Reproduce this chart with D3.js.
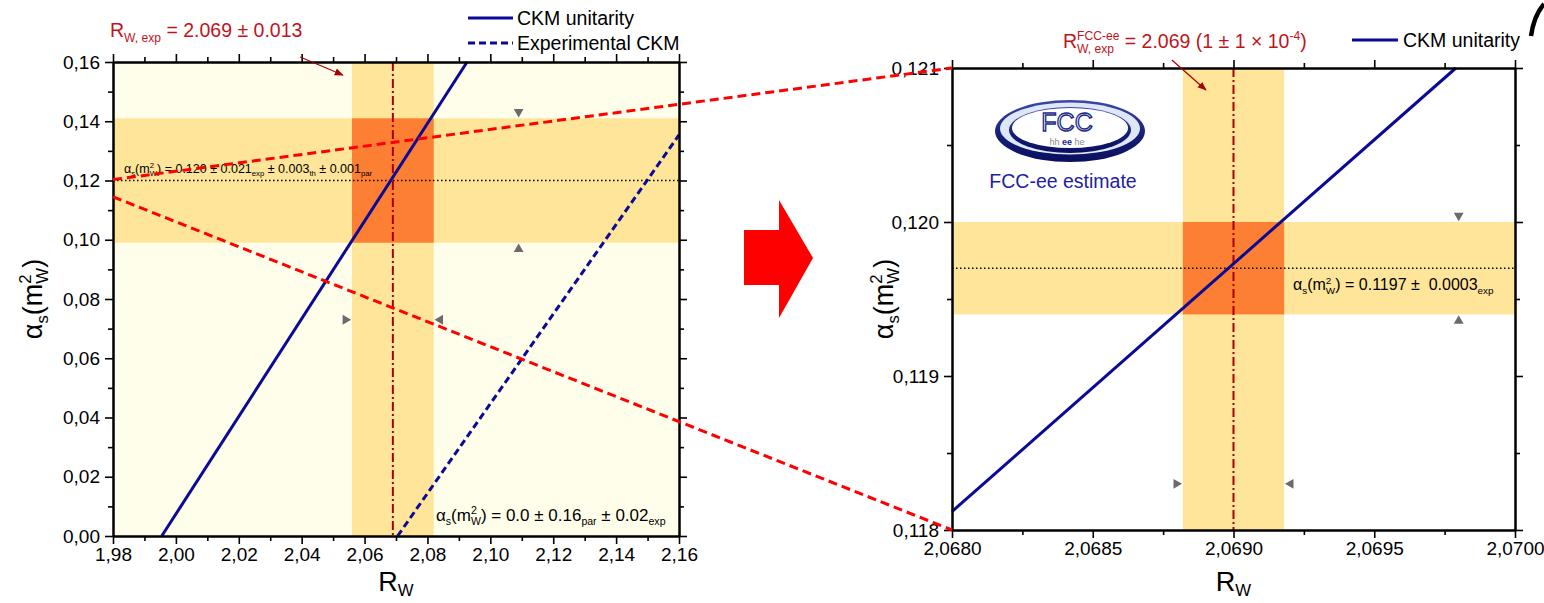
<!DOCTYPE html>
<html>
<head>
<meta charset="utf-8">
<script src="https://cdn.jsdelivr.net/npm/d3@7"></script>
<style>
  html, body { margin: 0; padding: 0; background: #ffffff; }
  svg { display: block; font-family: "Liberation Sans", Arial, sans-serif; }
  text { white-space: pre; }
</style>
</head>
<body>
<svg id="chart" width="1544" height="603"></svg>
<script>
// ---------------- data ----------------
const xTicksLeft  = [1.98, 2.00, 2.02, 2.04, 2.06, 2.08, 2.10, 2.12, 2.14, 2.16];
const yTicksLeft  = [0.00, 0.02, 0.04, 0.06, 0.08, 0.10, 0.12, 0.14, 0.16];
const xTicksRight = [2.0680, 2.0685, 2.0690, 2.0695, 2.0700];
const yTicksRight = [0.118, 0.119, 0.120, 0.121];

// measured R_W and alpha_s bands (central value, half width)
const rwCentral = 2.069;
const rwErrNow = 0.013;
const rwErrFcc = 0.00018;
const alphaNow = 0.120, alphaErrNow = 0.021;
const alphaFcc = 0.1197, alphaErrFcc = 0.0003;

// lines [R_W, alpha_s]
const ckmUnitarityLeft  = [[1.9955, 0.0], [2.0926, 0.16]];
const ckmExperimental   = [[2.0705, 0.0], [2.16, 0.1354]];
const ckmUnitarityRight = [[2.0680, 0.11812], [2.06979, 0.121]];

// zoom guides: start in the left panel, end at the corners of the right panel
const zoomFrom = [[1.98, 0.1203], [1.98, 0.1145]];
const zoomTo   = [[2.0680, 0.121], [2.0680, 0.118]];

// error-marker anchors
const markLeft  = { r: 2.109, a: 0.073 };
const markRight = { r: 2.0698, a: 0.1183 };

// annotation arrows [from, to] in panel data units
const arrowLeft  = [[2.0395, 0.1617], [2.0531, 0.1556]];
const arrowRight = [[2.068781, 0.121052], [2.068902, 0.120857]];

// ---------------- layout ----------------
const svg = d3.select("#chart");
const FONT = '"Liberation Sans", Arial, sans-serif';
const BLUE = "#0a0a96";
const DARKRED = "#a80000";
const ANNORED = "#c0141c";
const BAND = "#ffe59a";
const CROSS = "#fd7f33";

const PL = { x0: 113, x1: 679, y0: 536, y1: 62 };
const PR = { x0: 952, x1: 1515, y0: 530, y1: 68 };

const xL = d3.scaleLinear().domain([xTicksLeft[0], xTicksLeft[xTicksLeft.length - 1]]).range([PL.x0, PL.x1]);
const yL = d3.scaleLinear().domain([yTicksLeft[0], yTicksLeft[yTicksLeft.length - 1]]).range([PL.y0, PL.y1]);
const xR = d3.scaleLinear().domain([xTicksRight[0], xTicksRight[xTicksRight.length - 1]]).range([PR.x0, PR.x1]);
const yR = d3.scaleLinear().domain([yTicksRight[0], yTicksRight[yTicksRight.length - 1]]).range([PR.y0, PR.y1]);

const defs = svg.append("defs");
defs.append("marker").attr("id", "arrowHead")
  .attr("viewBox", "0 0 10 10").attr("refX", 9).attr("refY", 5)
  .attr("markerWidth", 9).attr("markerHeight", 9).attr("orient", "auto")
  .attr("markerUnits", "userSpaceOnUse")
  .append("path").attr("d", "M0,1 L10,5 L0,9 Z").attr("fill", DARKRED);

// text with sub/superscripts; stacked scripts share one horizontal slot
function richText(parent, x, y, segs, o) {
  const outer = parent.append("g")
    .attr("transform", `translate(${x},${y})` + (o.rotate ? ` rotate(${o.rotate})` : ""));
  const inner = outer.append("g");
  let cx = 0, pending = 0;
  const subDy = o.subDy !== undefined ? o.subDy : 0.24;
  for (const s of segs) {
    const small = s.k === "sub" || s.k === "sup";
    const fs = small ? o.size * 0.62 : o.size;
    const dy = s.k === "sub" ? o.size * subDy : s.k === "sup" ? -o.size * 0.4 : 0;
    const t = inner.append("text")
      .attr("x", cx).attr("y", dy)
      .attr("font-size", fs)
      .attr("font-family", FONT)
      .attr("font-weight", s.bold ? "bold" : null)
      .attr("fill", s.fill || o.fill || "#000")
      .text(s.t);
    const w = t.node().getComputedTextLength();
    if (s.stack) pending = Math.max(pending, w);
    else { cx += Math.max(w, pending); pending = 0; }
  }
  const shift = o.anchor === "middle" ? -cx / 2 : o.anchor === "end" ? -cx : 0;
  inner.attr("transform", `translate(${shift},0)`);
  return outer;
}

const alphaTitle = [{ t: "α" }, { t: "s", k: "sub" }, { t: "(m" }, { t: "2", k: "sup", stack: true }, { t: "W", k: "sub" }, { t: ")" }];
const rwTitle = [{ t: "R" }, { t: "W", k: "sub" }];

function midpoints(arr) {
  const out = [];
  for (let i = 0; i < arr.length - 1; i++) out.push((arr[i] + arr[i + 1]) / 2);
  return out;
}

function commaFormat(spec) {
  const f = d3.format(spec);
  return d => f(d).replace(".", ",");
}

function drawAxes(g, xs, ys, P, xt, yt, fx, fy) {
  const xm = midpoints(xt), ym = midpoints(yt);
  const style = sel => {
    sel.attr("font-size", 19).attr("font-family", FONT);
    sel.select(".domain").attr("stroke", "#000").attr("stroke-width", 2);
    sel.selectAll(".tick line").attr("stroke", "#000").attr("stroke-width", 1.6);
    sel.selectAll(".tick text").attr("fill", "#000");
  };
  g.append("g").attr("transform", `translate(0,${P.y0})`)
    .call(d3.axisBottom(xs).tickValues(xt).tickSize(8).tickSizeOuter(0).tickPadding(4).tickFormat(fx)).call(style);
  g.append("g").attr("transform", `translate(0,${P.y0})`)
    .call(d3.axisBottom(xs).tickValues(xm).tickSize(5).tickSizeOuter(0).tickFormat("")).call(style);
  g.append("g").attr("transform", `translate(0,${P.y1})`)
    .call(d3.axisTop(xs).tickValues(xt).tickSize(8).tickSizeOuter(0).tickFormat("")).call(style);
  g.append("g").attr("transform", `translate(0,${P.y1})`)
    .call(d3.axisTop(xs).tickValues(xm).tickSize(5).tickSizeOuter(0).tickFormat("")).call(style);
  g.append("g").attr("transform", `translate(${P.x0},0)`)
    .call(d3.axisLeft(ys).tickValues(yt).tickSize(8).tickSizeOuter(0).tickPadding(5).tickFormat(fy)).call(style);
  g.append("g").attr("transform", `translate(${P.x0},0)`)
    .call(d3.axisLeft(ys).tickValues(ym).tickSize(5).tickSizeOuter(0).tickFormat("")).call(style);
  g.append("g").attr("transform", `translate(${P.x1},0)`)
    .call(d3.axisRight(ys).tickValues(yt).tickSize(8).tickSizeOuter(0).tickFormat("")).call(style);
  g.append("g").attr("transform", `translate(${P.x1},0)`)
    .call(d3.axisRight(ys).tickValues(ym).tickSize(5).tickSizeOuter(0).tickFormat("")).call(style);
}

function drawBands(g, xs, ys, P, rC, rE, aC, aE) {
  g.append("rect").attr("x", xs(rC - rE)).attr("y", P.y1)
    .attr("width", xs(rC + rE) - xs(rC - rE)).attr("height", P.y0 - P.y1).attr("fill", BAND);
  g.append("rect").attr("x", P.x0).attr("y", ys(aC + aE))
    .attr("width", P.x1 - P.x0).attr("height", ys(aC - aE) - ys(aC + aE)).attr("fill", BAND);
  g.append("rect").attr("x", xs(rC - rE)).attr("y", ys(aC + aE))
    .attr("width", xs(rC + rE) - xs(rC - rE)).attr("height", ys(aC - aE) - ys(aC + aE)).attr("fill", CROSS);
  g.append("line").attr("x1", P.x0).attr("x2", P.x1).attr("y1", ys(aC)).attr("y2", ys(aC))
    .attr("stroke", "#000").attr("stroke-width", 1.5).attr("stroke-dasharray", "1.5,2.5");
  g.append("line").attr("x1", xs(rC)).attr("x2", xs(rC)).attr("y1", P.y1).attr("y2", P.y0)
    .attr("stroke", DARKRED).attr("stroke-width", 2).attr("stroke-dasharray", "9,3,2,3");
}

function drawMarkers(g, xs, ys, rC, rE, aC, aE, m) {
  const tri = d3.symbol(d3.symbolTriangle, 42)();
  const gap = 6.5;
  const items = [
    [xs(m.r), ys(aC + aE) - gap, 180],
    [xs(m.r), ys(aC - aE) + gap, 0],
    [xs(rC - rE) - gap, ys(m.a), 90],
    [xs(rC + rE) + gap, ys(m.a), -90]
  ];
  g.selectAll(null).data(items).join("path")
    .attr("d", tri).attr("fill", "#6b6b6b")
    .attr("transform", d => `translate(${d[0]},${d[1]}) rotate(${d[2]})`);
}

// ---------------- left panel ----------------
const gL = svg.append("g");
gL.append("rect").attr("x", PL.x0).attr("y", PL.y1).attr("width", PL.x1 - PL.x0).attr("height", PL.y0 - PL.y1)
  .attr("fill", "#fffeea");
drawBands(gL, xL, yL, PL, rwCentral, rwErrNow, alphaNow, alphaErrNow);

const lineL = d3.line().x(d => xL(d[0])).y(d => yL(d[1]));
gL.append("path").attr("d", lineL(ckmUnitarityLeft)).attr("fill", "none")
  .attr("stroke", BLUE).attr("stroke-width", 3);
gL.append("path").attr("d", lineL(ckmExperimental)).attr("fill", "none")
  .attr("stroke", BLUE).attr("stroke-width", 3).attr("stroke-dasharray", "7,4");

drawMarkers(gL, xL, yL, rwCentral, rwErrNow, alphaNow, alphaErrNow, markLeft);

richText(gL, 124, 173, [
  { t: "α" }, { t: "s", k: "sub" }, { t: "(m" }, { t: "2", k: "sup", stack: true }, { t: "W", k: "sub" },
  { t: ") = " + alphaNow.toFixed(3) + " ± " + alphaErrNow.toFixed(3) }, { t: "exp", k: "sub" },
  { t: " ± 0.003" }, { t: "th", k: "sub" }, { t: " ± 0.001" }, { t: "par", k: "sub" }
], { size: 12.5 });

richText(gL, 436, 521, [
  { t: "α" }, { t: "s", k: "sub" }, { t: "(m" }, { t: "2", k: "sup", stack: true }, { t: "W", k: "sub" },
  { t: ") = 0.0 ± 0.16" }, { t: "par", k: "sub" }, { t: " ± 0.02" }, { t: "exp", k: "sub" }
], { size: 17 });

drawAxes(gL, xL, yL, PL, xTicksLeft, yTicksLeft, commaFormat(".2f"), commaFormat(".2f"));

// legend
const legL = svg.append("g");
legL.append("line").attr("x1", 468).attr("x2", 513).attr("y1", 18).attr("y2", 18)
  .attr("stroke", BLUE).attr("stroke-width", 3);
legL.append("line").attr("x1", 468).attr("x2", 513).attr("y1", 43).attr("y2", 43)
  .attr("stroke", BLUE).attr("stroke-width", 3).attr("stroke-dasharray", "7,4");
legL.append("text").attr("x", 517).attr("y", 25).attr("font-size", 19.5).attr("font-family", FONT).text("CKM unitarity");
legL.append("text").attr("x", 517).attr("y", 50).attr("font-size", 19.5).attr("font-family", FONT).text("Experimental CKM");

richText(svg, 110, 37, [
  { t: "R" }, { t: "W, exp", k: "sub" }, { t: " = " + rwCentral.toFixed(3) + " ± " + rwErrNow.toFixed(3) }
], { size: 19.5, fill: ANNORED });
svg.append("line")
  .attr("x1", xL(arrowLeft[0][0])).attr("y1", yL(arrowLeft[0][1]))
  .attr("x2", xL(arrowLeft[1][0])).attr("y2", yL(arrowLeft[1][1]))
  .attr("stroke", DARKRED).attr("stroke-width", 1.2).attr("marker-end", "url(#arrowHead)");

richText(svg, 42, PL.y0 - (PL.y0 - PL.y1) / 2, alphaTitle, { size: 27, anchor: "middle", rotate: -90 });
richText(svg, (PL.x0 + PL.x1) / 2, 591, rwTitle, { size: 27, anchor: "middle", subDy: 0.18 });

// ---------------- right panel ----------------
const gR = svg.append("g");
gR.append("rect").attr("x", PR.x0).attr("y", PR.y1).attr("width", PR.x1 - PR.x0).attr("height", PR.y0 - PR.y1)
  .attr("fill", "#ffffff");
drawBands(gR, xR, yR, PR, rwCentral, rwErrFcc, alphaFcc, alphaErrFcc);

const lineR = d3.line().x(d => xR(d[0])).y(d => yR(d[1]));
gR.append("path").attr("d", lineR(ckmUnitarityRight)).attr("fill", "none")
  .attr("stroke", BLUE).attr("stroke-width", 3);

drawMarkers(gR, xR, yR, rwCentral, rwErrFcc, alphaFcc, alphaErrFcc, markRight);

richText(gR, 1293, 290, [
  { t: "α" }, { t: "s", k: "sub" }, { t: "(m" }, { t: "2", k: "sup", stack: true }, { t: "W", k: "sub" },
  { t: ") = " + alphaFcc.toFixed(4) + " ±  " + alphaErrFcc.toFixed(4) }, { t: "exp", k: "sub" }
], { size: 16 });

// FCC logo
const logo = gR.append("g").attr("transform", "translate(1070,131)");
const lg = defs.append("linearGradient").attr("id", "ringGrad").attr("x1", 0).attr("y1", 0).attr("x2", 0).attr("y2", 1);
lg.append("stop").attr("offset", "0%").attr("stop-color", "#3a4aa8");
lg.append("stop").attr("offset", "60%").attr("stop-color", "#131d74");
lg.append("stop").attr("offset", "100%").attr("stop-color", "#0a1060");
logo.append("ellipse").attr("rx", 75).attr("ry", 31).attr("fill", "url(#ringGrad)");
logo.append("ellipse").attr("cy", -2.5).attr("rx", 70).attr("ry", 26).attr("fill", "#dfe6f7");
logo.append("ellipse").attr("cy", -1).attr("rx", 61).attr("ry", 23).attr("fill", "url(#ringGrad)");
logo.append("ellipse").attr("cy", -3).attr("rx", 58).attr("ry", 20).attr("fill", "#ffffff");
logo.append("text").attr("x", -3).attr("y", 0).attr("text-anchor", "middle")
  .attr("font-size", 25).attr("font-family", FONT)
  .attr("fill", "#eef1fb").attr("stroke", "#1b2a86").attr("stroke-width", 1.3).text("FCC");
const sub = logo.append("text").attr("x", -3).attr("y", 14).attr("text-anchor", "middle")
  .attr("font-size", 9).attr("font-family", FONT);
sub.append("tspan").attr("fill", "#8a8a8a").text("hh ");
sub.append("tspan").attr("fill", "#1b2a96").attr("font-weight", "bold").text("ee");
sub.append("tspan").attr("fill", "#8a8a8a").text(" he");
gR.append("text").attr("x", 1063).attr("y", 188).attr("text-anchor", "middle")
  .attr("font-size", 19.5).attr("font-family", FONT).attr("fill", "#1e1ea0").text("FCC-ee estimate");

drawAxes(gR, xR, yR, PR, xTicksRight, yTicksRight, commaFormat(".4f"), commaFormat(".3f"));

// legend and annotation
svg.append("line").attr("x1", 1352).attr("x2", 1398).attr("y1", 40).attr("y2", 40)
  .attr("stroke", BLUE).attr("stroke-width", 3);
svg.append("text").attr("x", 1403).attr("y", 47).attr("font-size", 19.5).attr("font-family", FONT).text("CKM unitarity");

richText(svg, 1063, 48, [
  { t: "R" }, { t: "FCC-ee", k: "sup", stack: true }, { t: "W, exp", k: "sub" },
  { t: " = " + rwCentral.toFixed(3) + " (1 ± 1 × 10" }, { t: "-4", k: "sup" }, { t: ")" }
], { size: 19.5, fill: ANNORED });
svg.append("line")
  .attr("x1", xR(arrowRight[0][0])).attr("y1", yR(arrowRight[0][1]))
  .attr("x2", xR(arrowRight[1][0])).attr("y2", yR(arrowRight[1][1]))
  .attr("stroke", DARKRED).attr("stroke-width", 1.2).attr("marker-end", "url(#arrowHead)");

richText(svg, 893, PR.y0 - (PR.y0 - PR.y1) / 2, alphaTitle, { size: 27, anchor: "middle", rotate: -90 });
richText(svg, (PR.x0 + PR.x1) / 2, 591, rwTitle, { size: 27, anchor: "middle", subDy: 0.18 });

// ---------------- zoom guides and transition arrow ----------------
const guides = zoomFrom.map((p, i) => [[xL(p[0]), yL(p[1])], [xR(zoomTo[i][0]), yR(zoomTo[i][1])]]);
svg.selectAll(null).data(guides).join("line")
  .attr("x1", d => d[0][0]).attr("y1", d => d[0][1])
  .attr("x2", d => d[1][0]).attr("y2", d => d[1][1])
  .attr("stroke", "#ff0000").attr("stroke-width", 3).attr("stroke-dasharray", "9,5");

svg.append("path")
  .attr("transform", "translate(744,200)")
  .attr("d", "M0,30 L35,30 L35,0 L69,58 L35,118 L35,85 L0,85 Z")
  .attr("fill", "#ff0000");

// corner stroke
svg.append("path").attr("d", "M1531,36 C1533,22 1537,12 1544,4")
  .attr("fill", "none").attr("stroke", "#000").attr("stroke-width", 4.5);
</script>
</body>
</html>
